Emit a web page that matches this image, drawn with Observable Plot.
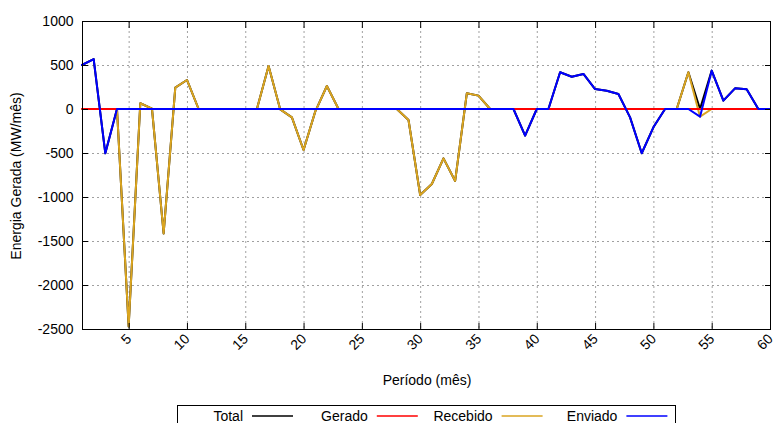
<!DOCTYPE html>
<html><head><meta charset="utf-8">
<script src="https://cdn.jsdelivr.net/npm/d3@7"></script>
<script src="https://cdn.jsdelivr.net/npm/@observablehq/plot@0.6"></script>
<style>body{margin:0;overflow:hidden;background:#fff} svg{display:block}</style>
</head><body><div id="chart"></div>
<script>
const periods = [1,2,3,4,5,6,7,8,9,10,11,12,13,14,15,16,17,18,19,20,21,22,23,24,25,26,27,28,29,30,31,32,33,34,35,36,37,38,39,40,41,42,43,44,45,46,47,48,49,50,51,52,53,54,55,56,57,58,59,60];
const total    = [500,568,-503,0,-2470,65,5,-1415,242,330,0,0,0,0,0,0,489,-5,-95,-466,-30,261,0,0,0,0,0,0,-125,-977,-852,-561,-818,178,152,0,0,0,-303,0,0,417,367,398,227,208,170,-95,-503,-208,0,0,417,0,436,95,235,224,0,0];
const gerado   = [0,0,0,0,0,0,0,0,0,0,0,0,0,0,0,0,0,0,0,0,0,0,0,0,0,0,0,0,0,0,0,0,0,0,0,0,0,0,0,0,0,0,0,0,0,0,0,0,0,0,0,0,0,0,0,0,0,0,0,0];
const recebido = [0,0,0,0,-2470,65,5,-1415,242,330,0,0,0,0,0,0,489,-5,-95,-466,-30,261,0,0,0,0,0,0,-125,-977,-852,-561,-818,178,152,0,0,0,0,0,0,0,0,0,0,0,0,0,0,0,0,0,417,-87,0,0,0,0,0,0];
const enviado  = [500,568,-503,0,0,0,0,0,0,0,0,0,0,0,0,0,0,0,0,0,0,0,0,0,0,0,0,0,0,0,0,0,0,0,0,0,0,0,-303,0,0,417,367,398,227,208,170,-95,-503,-208,0,0,0,-87,436,95,235,224,0,0];

const seriesNames  = ["Total","Gerado","Recebido","Enviado"];
const seriesColors = ["#000000","#ff0000","#daa520","#0000ff"];
const xTicks = [5,10,15,20,25,30,35,40,45,50,55,60];
const yTicks = [-2500,-2000,-1500,-1000,-500,0,500,1000];
const xTitle = "Período (mês)";
const yTitle = "Energia Gerada (MW/mês)";

const seriesValues = {Total: total, Gerado: gerado, Recebido: recebido, Enviado: enviado};
const colorOf = Object.fromEntries(seriesNames.map((n,i)=>[n, seriesColors[i]]));
const drawOrder = ["Total","Recebido","Gerado","Enviado"];
const lineMarks = drawOrder.map(name =>
  Plot.line(periods.map((p,i)=>({x:p, y:seriesValues[name][i]})),
    {x:"x", y:"y", stroke: colorOf[name], strokeWidth: 2, dx: -0.5, dy: -0.5}));

const noText = () => "";
const plainNum = d => String(d);
const plot = Plot.plot({
  width: 775, height: 423,
  marginLeft: 82, marginRight: 5, marginTop: 21, marginBottom: 94,
  style: {fontFamily: "'Liberation Sans', Arial, sans-serif", fontSize: "14px", background: "white", color: "black"},
  x: {domain: [1, 60], label: null},
  y: {domain: [-2500, 1000], label: null},
  marks: [
    Plot.ruleX(xTicks, {x: d => d, stroke: "#a0a0a0", strokeWidth: 1, strokeDasharray: "2,3"}),
    Plot.ruleY(yTicks, {y: d => d, stroke: "#a0a0a0", strokeWidth: 1, strokeDasharray: "2,3"}),
    ...lineMarks,
    Plot.frame({stroke: "black"}),
    Plot.axisY(yTicks, {anchor: "left", tickSize: 0, tickPadding: 9, tickFormat: plainNum, label: null}),
    Plot.axisX(xTicks, {anchor: "bottom", tickSize: 0, tickPadding: 7, tickRotate: -45, textAnchor: "end", lineAnchor: "middle", dx: 0, tickFormat: plainNum, label: null}),
    Plot.axisY(yTicks, {anchor: "left", tickSize: 6, dx: 6, tickFormat: noText, label: null}),
    Plot.axisY(yTicks, {anchor: "right", tickSize: 6, dx: -6, tickFormat: noText, label: null}),
    Plot.axisX(xTicks, {anchor: "bottom", tickSize: 6, dy: -6, tickFormat: noText, label: null}),
    Plot.axisX(xTicks, {anchor: "top", tickSize: 6, dy: 6, tickFormat: noText, label: null})
  ]
});
document.getElementById("chart").appendChild(plot);

const svg = d3.select(plot);
svg.append("text").attr("transform", "translate(21,176) rotate(-90)")
  .attr("text-anchor", "middle").attr("fill", "black").text(yTitle);
svg.append("text").attr("x", 427).attr("y", 385)
  .attr("text-anchor", "middle").attr("fill", "black").text(xTitle);

const lg = svg.append("g");
lg.append("rect").attr("x", 177.5).attr("y", 405.5).attr("width", 498).attr("height", 30)
  .attr("fill", "none").attr("stroke", "black");
seriesNames.forEach((name, i) => {
  const sx = 252 + 124.8 * i;
  lg.append("text").attr("x", sx - 9).attr("y", 421).attr("text-anchor", "end").attr("fill", "black").text(name);
  lg.append("line").attr("x1", sx).attr("x2", sx + 41).attr("y1", 416).attr("y2", 416)
    .attr("stroke", seriesColors[i]).attr("stroke-width", 1.5);
});
</script></body></html>
